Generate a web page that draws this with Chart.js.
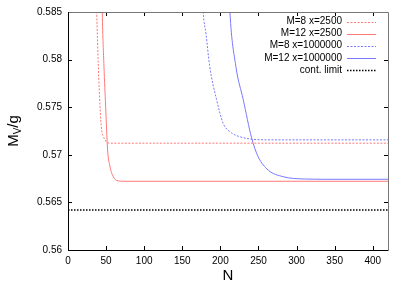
<!DOCTYPE html>
<html>
<head>
<meta charset="utf-8">
<script src="https://cdn.jsdelivr.net/npm/chart.js@4/dist/chart.umd.min.js"></script>
<style>
  html, body { margin: 0; padding: 0; background: #fff; }
  #wrap { width: 403px; height: 283px; }
</style>
</head>
<body>
<div id="wrap"><canvas id="myChart" width="403" height="283"></canvas></div>
<script>
'use strict';

// series
const labels = ['M=8 x=2500', 'M=12 x=2500', 'M=8 x=1000000', 'M=12 x=1000000', 'cont. limit'];

const m8x2500N = [36.5, 37.6, 39.8, 42, 44.2, 46.5, 48.5, 52, 60, 420];
const m8x2500V = [0.588, 0.585, 0.5793, 0.5751, 0.5726, 0.5719, 0.5716, 0.57125, 0.57122, 0.57122];

const m12x2500N = [44.5, 45, 47.2, 49.4, 52, 55, 59.4, 66, 75, 420];
const m12x2500V = [0.588, 0.585, 0.5793, 0.5751, 0.5705, 0.5688, 0.5677, 0.56726, 0.56722, 0.56722];

const m8x1e6N = [176, 177.5, 181, 186, 195, 203.7, 214.7, 225.6, 247, 270, 420];
const m8x1e6V = [0.588, 0.585, 0.5828, 0.5793, 0.5758, 0.5733, 0.5723, 0.5719, 0.5716, 0.57157, 0.57157];

const m12x1e6N = [211, 212.5, 220.3, 230, 240.9, 249.6, 262.7, 282.4, 310, 340, 420];
const m12x1e6V = [0.588, 0.585, 0.5793, 0.5758, 0.5718, 0.5698, 0.5684, 0.5677, 0.56746, 0.56743, 0.56743];

const contN = [0, 420];
const contV = [0.5642, 0.5642];

const xTicks = [0, 50, 100, 150, 200, 250, 300, 350, 400];
const yTicks = [0.56, 0.565, 0.57, 0.575, 0.58, 0.585];

function toPoints(xs, ys) {
  return xs.map((x, i) => ({ x: x, y: ys[i] }));
}

const RED = 'rgb(255,120,120)';
const BLUE = 'rgb(120,120,255)';

// gnuplot-ish frame, inward ticks, legend, axis titles
const framePlugin = {
  id: 'frame',
  afterDatasetsDraw(chart) {
    const ctx = chart.ctx;
    const a = chart.chartArea;
    const xs = chart.scales.x;
    const ys = chart.scales.y;
    ctx.save();

    // ticks
    ctx.strokeStyle = '#000';
    ctx.lineWidth = 1;
    xTicks.forEach(v => {
      const px = Math.round(xs.getPixelForValue(v)) + 0.5;
      ctx.beginPath();
      ctx.moveTo(px, a.bottom); ctx.lineTo(px, a.bottom - 4);
      ctx.moveTo(px, a.top); ctx.lineTo(px, a.top + 4);
      ctx.stroke();
    });
    yTicks.forEach(v => {
      const py = Math.round(ys.getPixelForValue(v)) + 0.5;
      ctx.beginPath();
      ctx.moveTo(a.left, py); ctx.lineTo(a.left + 4, py);
      ctx.moveTo(a.right, py); ctx.lineTo(a.right - 4, py);
      ctx.stroke();
    });

    // border
    ctx.strokeStyle = '#777';
    ctx.beginPath();
    ctx.moveTo(a.left, a.top + 0.5); ctx.lineTo(a.right + 0.5, a.top + 0.5);
    ctx.lineTo(a.right + 0.5, a.bottom);
    ctx.stroke();
    ctx.strokeStyle = '#000';
    ctx.beginPath();
    ctx.moveTo(a.left + 0.5, a.top); ctx.lineTo(a.left + 0.5, a.bottom + 0.5);
    ctx.lineTo(a.right + 0.5, a.bottom + 0.5);
    ctx.stroke();

    // legend
    ctx.font = '10px "Liberation Sans", Arial, sans-serif';
    ctx.textAlign = 'right';
    ctx.textBaseline = 'middle';
    chart.data.datasets.forEach((ds, i) => {
      const y = 21.5 + i * 12.1;
      ctx.fillStyle = '#000';
      ctx.fillText(ds.label, 342, y);
      ctx.beginPath();
      ctx.setLineDash(ds.borderDash || []);
      ctx.strokeStyle = ds.borderColor;
      ctx.lineWidth = ds.borderWidth;
      ctx.moveTo(347, Math.round(y) + 0.5);
      ctx.lineTo(376, Math.round(y) + 0.5);
      ctx.stroke();
    });
    ctx.setLineDash([]);

    // axis titles
    ctx.fillStyle = '#000';
    ctx.textAlign = 'center';
    ctx.textBaseline = 'middle';
    ctx.font = '15px "Liberation Sans", Arial, sans-serif';
    ctx.fillText('N', (a.left + a.right) / 2, 276);

    ctx.translate(14, (a.top + a.bottom) / 2);
    ctx.rotate(-Math.PI / 2);
    const big = '15px "Liberation Sans", Arial, sans-serif';
    const small = '10px "Liberation Sans", Arial, sans-serif';
    ctx.font = big;
    const wM = ctx.measureText('M').width;
    const wG = ctx.measureText('/g').width;
    ctx.font = small;
    const wV = ctx.measureText('V').width;
    let x0 = -(wM + wV + wG) / 2;
    ctx.textAlign = 'left';
    ctx.font = big;
    ctx.fillText('M', x0, 0);
    ctx.font = small;
    ctx.fillText('V', x0 + wM, 4);
    ctx.font = big;
    ctx.fillText('/g', x0 + wM + wV, 0);
    ctx.restore();
  }
};

const ctx = document.getElementById('myChart').getContext('2d');
const chart = new Chart(ctx, {
  type: 'line',
  data: {
    datasets: [
      {
        label: labels[0],
        data: toPoints(m8x2500N, m8x2500V),
        borderColor: RED, borderWidth: 1, borderDash: [2, 1.5]
      },
      {
        label: labels[1],
        data: toPoints(m12x2500N, m12x2500V),
        borderColor: RED, borderWidth: 1
      },
      {
        label: labels[2],
        data: toPoints(m8x1e6N, m8x1e6V),
        borderColor: BLUE, borderWidth: 1, borderDash: [2, 1.5]
      },
      {
        label: labels[3],
        data: toPoints(m12x1e6N, m12x1e6V),
        borderColor: BLUE, borderWidth: 1
      },
      {
        label: labels[4],
        data: toPoints(contN, contV),
        borderColor: '#000', borderWidth: 1.3, borderDash: [1.5, 1.5]
      }
    ]
  },
  options: {
    responsive: false,
    animation: false,
    cubicInterpolationMode: 'monotone',
    elements: { point: { radius: 0 } },
    layout: { padding: { top: 12, right: 15, left: 0, bottom: 0 } },
    plugins: { legend: { display: false }, tooltip: { enabled: false } },
    scales: {
      x: {
        type: 'linear',
        min: 0, max: 420,
        grid: { display: false, drawTicks: false },
        border: { display: false },
        afterFit: s => { s.height = 33; },
        afterBuildTicks: s => { s.ticks = xTicks.map(v => ({ value: v })); },
        ticks: {
          padding: 5,
          maxRotation: 0,
          color: '#000',
          font: { family: '"Liberation Sans", Arial, sans-serif', size: 10 },
          callback: v => String(v)
        }
      },
      y: {
        type: 'linear',
        min: 0.56, max: 0.585,
        grid: { display: false, drawTicks: false },
        border: { display: false },
        afterFit: s => { s.width = 68; },
        afterBuildTicks: s => { s.ticks = yTicks.map(v => ({ value: v })); },
        ticks: {
          padding: 6,
          color: '#000',
          font: { family: '"Liberation Sans", Arial, sans-serif', size: 10 },
          callback: v => String(+v.toFixed(3))
        }
      }
    }
  },
  plugins: [framePlugin]
});
</script>
</body>
</html>
